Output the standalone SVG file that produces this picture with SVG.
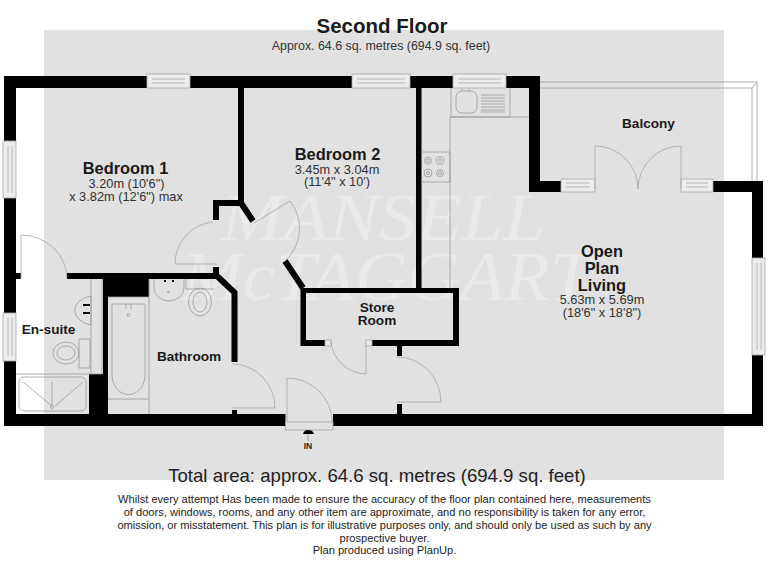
<svg xmlns="http://www.w3.org/2000/svg" width="768" height="576" viewBox="0 0 768 576">
<style>
text{font-family:"Liberation Sans",Arial,sans-serif;fill:#222;text-anchor:middle}
.b{font-weight:bold;font-size:16.400px;fill:#1a1a1a}
.c{font-weight:bold;font-size:13.600px;fill:#1a1a1a}
.s{font-size:12.800px;fill:#333}
.d{font-size:11.100px;fill:#222}
.t{fill:none;stroke:#999;stroke-width:.8}
.w{fill:#000;stroke:none}
.l{fill:none;stroke:#000;stroke-width:6}
.win{fill:#ececec;stroke:#aaa;stroke-width:.8}
.in{fill:none;stroke:#aaa;stroke-width:.8}
.door{fill:none;stroke:#a5a5a5;stroke-width:.8}
.wm{font-family:"Liberation Serif",serif;font-style:italic;fill:#fff;fill-opacity:.32}
</style>
<rect width="768" height="576" fill="#fff"/>
<rect x="44" y="30" width="680" height="450" fill="#e1e1e1"/>
<g id="watermark"><text class="wm" style="font-size:68px" x="383" y="240" textLength="324" lengthAdjust="spacingAndGlyphs">MANSELL</text><text class="wm" style="font-size:70px" x="386" y="300" textLength="408" lengthAdjust="spacingAndGlyphs">McTAGGART</text></g>
<g id="balcony-rail"><path class="t" d="M540 82H757V181M540 88H752V181M752 88L757 82"/></g>
<g id="walls">
<rect class="w" x="4" y="76" width="143" height="12"/>
<rect class="w" x="190" y="76" width="162" height="12"/>
<rect class="w" x="410" y="76" width="43" height="12"/>
<rect class="w" x="506" y="76" width="34" height="12"/>
<rect class="w" x="4" y="76" width="12" height="65"/>
<rect class="w" x="4" y="198" width="12" height="115"/>
<rect class="w" x="16" y="273" width="5" height="6"/>
<rect class="w" x="4" y="361" width="12" height="65"/>
<rect class="w" x="4" y="414" width="281.500" height="12"/>
<rect class="w" x="333" y="414" width="430" height="12"/>
<rect class="w" x="752" y="355" width="11" height="71"/>
<rect class="w" x="752" y="181" width="11" height="77"/>
<rect class="w" x="713" y="181" width="50" height="11"/>
<rect class="w" x="529" y="76" width="11" height="116"/>
<rect class="w" x="529" y="181" width="32" height="11"/>
<rect class="w" x="67" y="273" width="152" height="6"/>
<rect class="w" x="213" y="267" width="6" height="6"/>
<rect class="w" x="103" y="273" width="46" height="24"/>
<rect class="w" x="103" y="297" width="5" height="117"/>
<rect class="w" x="89" y="374" width="14" height="40"/>
<path class="l" d="M217 276L234.500 292.500V362"/>
<rect class="w" x="232" y="410" width="5" height="4"/>
<path class="l" d="M241 88V203H216V220M241 203L253 221"/>
<path class="l" d="M285 261L303 288"/>
<rect class="w" x="416" y="88" width="5.500" height="200"/>
<path class="w" d="M300.500 288H459V346H371V340H453V293H306V340H325V346H300.500Z"/>
<rect class="w" x="397" y="346" width="5" height="10"/>
<rect class="w" x="397" y="404" width="5" height="10"/>
</g>
<g id="windows">
<g class="win"><rect x="147" y="74" width="43" height="14"/><rect x="352" y="74" width="58" height="14"/><rect x="453" y="74" width="53" height="14"/><rect x="561" y="179" width="34" height="13"/><rect x="681" y="179" width="32" height="13"/><rect x="3" y="141" width="13" height="57"/><rect x="3" y="313" width="13" height="48"/><rect x="752" y="258" width="13" height="97"/></g>
<path class="in" d="M152 79H185M152 83H185M357 79H405M357 83H405M458 79H501M458 83H501M566 183H590M566 187H590M686 183H708M686 187H708M8 146V193M12 146V193M8 318V356M12 318V356M757 263V350M761 263V350"/>
</g>
<g id="doors">
<path class="door" d="M21 279V235A46 44 0 0 1 67 279M213 222A42 42 0 0 0 175 264H217M254 223L290 201A44 44 0 0 1 284 262M232 364A43 44 0 0 1 275 408H232M331 340A36 35 0 0 0 366 374V340M397 357A44 45 0 0 1 441 402H397M287 422V378A45 44 0 0 1 332 422M595 189V146A43 43 0 0 1 638 189M681 189V146A43 43 0 0 0 638 189"/>
<rect class="win" x="325" y="340" width="6" height="6"/><rect class="win" x="366" y="340" width="6" height="6"/>
<rect class="door" x="285.500" y="422" width="47.500" height="8"/>
<path class="w" d="M303 434Q304 430 308 430Q313 430 314 434Z"/><path class="t" d="M308 434V441"/>
</g>
<g id="fixtures">
<path class="t" d="M450 117V288M450 117H529M421 152H450V182H421M451 88V117H510V88"/>
<rect class="t" x="456" y="91" width="21" height="22" rx="6"/>
<path class="t" d="M462 91V89M469 91V89M481 95H505M481 98H505M481 101H505M481 104H505M481 107H505M481 110H505M481 112H505"/>
<g class="t"><circle cx="428" cy="160.500" r="3.500"/><circle cx="428" cy="160.500" r="1.500"/><circle cx="440" cy="160.500" r="4"/><circle cx="440" cy="160.500" r="1.500"/><circle cx="428" cy="173" r="4"/><circle cx="428" cy="173" r="1.500"/><circle cx="440" cy="173" r="3.500"/><circle cx="440" cy="173" r="1.500"/></g>
<path class="t" d="M91 279V374M16 374H89M102 279V374H89"/>
<path class="t" d="M91 296A22 15 0 0 0 91 325Z"/>
<path class="w" d="M83 304H90V306H83ZM83 312H90V314H83Z"/>
<rect class="t" x="79" y="339" width="11" height="29"/>
<ellipse class="t" cx="66" cy="353" rx="13" ry="11"/><ellipse class="t" cx="66" cy="353" rx="9" ry="7"/>
<rect class="t" x="19" y="377" width="67" height="34" rx="5"/>
<path class="t" d="M23 382L52 406M52 382V406M83 382L55 406"/><circle class="t" cx="52" cy="407" r="1.500"/>
<path class="t" d="M108 297H149V414M108 399H149M149 279V297"/>
<path class="t" d="M112 304H145V375A16 19 0 0 1 112 375Z"/>
<path class="t" d="M126 304V309M131 304V309"/><circle class="t" cx="128.500" cy="315" r="1.500"/>
<path class="t" d="M154 279V288A15 13 0 0 0 184 288V279"/>
<path class="w" d="M164 280H166V282H164ZM172 280H174V282H172Z"/>
<circle class="t" cx="168.500" cy="292" r="1"/>
<path class="t" d="M186 279V289H214"/>
<ellipse class="t" cx="200" cy="302" rx="11.500" ry="14"/><ellipse class="t" cx="200" cy="302" rx="7" ry="10"/>
</g>
<g id="labels">
<text x="382" y="33" style="font-size:20.500px;font-weight:bold;fill:#1a1a1a">Second Floor</text>
<text x="381" y="50" style="font-size:12.400px;fill:#333">Approx. 64.6 sq. metres (694.9 sq. feet)</text>
<text x="125.500" y="174" class="b">Bedroom 1</text>
<text x="126.500" y="188" class="s">3.20m (10'6")</text>
<text x="126" y="201" class="s">x 3.82m (12'6") max</text>
<text x="337.500" y="160" class="b">Bedroom 2</text>
<text x="337" y="174" class="s">3.45m x 3.04m</text>
<text x="337" y="186" class="s">(11'4" x 10')</text>
<text x="648.500" y="128" class="c">Balcony</text>
<text x="602" y="257" class="b">Open</text>
<text x="602" y="274" class="b">Plan</text>
<text x="602" y="291" class="b">Living</text>
<text x="602" y="304" class="s">5.63m x 5.69m</text>
<text x="602" y="317" class="s">(18'6" x 18'8")</text>
<text x="377" y="312" class="c">Store</text>
<text x="377" y="325" class="c">Room</text>
<text x="189" y="361" class="c">Bathroom</text>
<text x="48.500" y="334" class="c">En-suite</text>
<text x="308" y="449" class="c" style="font-size:8.500px">IN</text>
<text x="377" y="482" style="font-size:18.600px">Total area: approx. 64.6 sq. metres (694.9 sq. feet)</text>
<text x="384.500" y="503" class="d">Whilst every attempt Has been made to ensure the accuracy of the floor plan contained here, measurements</text>
<text x="384.500" y="516" class="d">of doors, windows, rooms, and any other item are approximate, and no responsibility is taken for any error,</text>
<text x="384.500" y="529" class="d">omission, or misstatement. This plan is for illustrative purposes only, and should only be used as such by any</text>
<text x="384.500" y="542" class="d">prospective buyer.</text>
<text x="384.500" y="554" class="d">Plan produced using PlanUp.</text>
</g>
</svg>
